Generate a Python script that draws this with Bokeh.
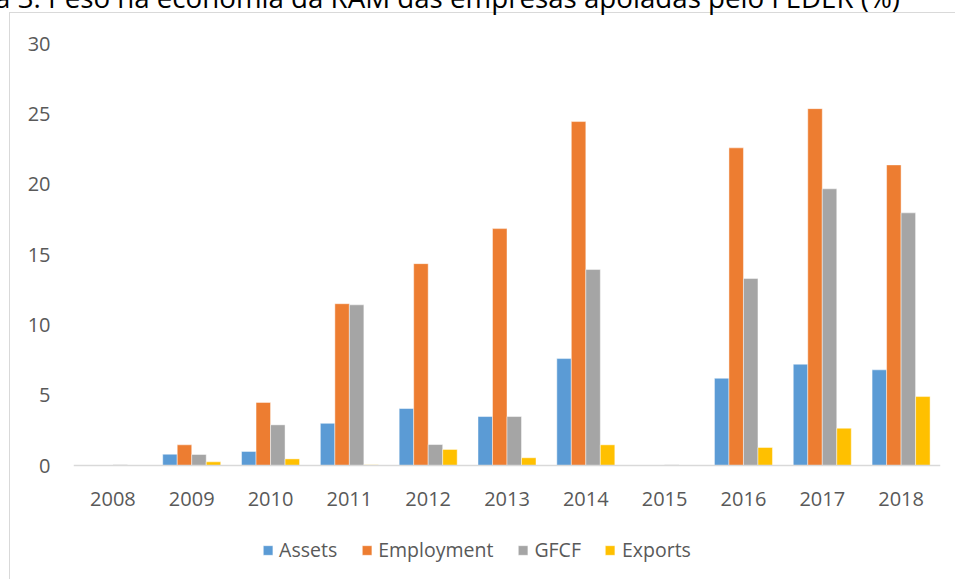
from bokeh.plotting import figure
from bokeh.models import (FactorRange, Range1d, Legend, LegendItem, Title,
                          ColumnDataSource)
from bokeh.transform import dodge
from bokeh.embed import file_html
from bokeh.resources import INLINE

years = ["2008", "2009", "2010", "2011", "2012", "2013", "2014", "2015", "2016", "2017", "2018"]
assets = [0.0, 0.8, 1.0, 3.0, 4.05, 3.48, 7.6, 0.0, 6.2, 7.2, 6.8]
employment = [0.0, 1.47, 4.48, 11.5, 14.35, 16.84, 24.45, 0.0, 22.58, 25.37, 21.37]
gfcf = [0.05, 0.78, 2.89, 11.42, 1.49, 3.48, 13.93, 0.05, 13.29, 19.67, 17.96]
exports = [0.0, 0.26, 0.47, 0.05, 1.14, 0.55, 1.47, 0.0, 1.28, 2.65, 4.9]
series = ["Assets", "Employment", "GFCF", "Exports"]
colors = ["#5B9BD5", "#ED7D31", "#A5A5A5", "#FFC000"]
title_text = "Figura 3: Peso na economia da RAM das empresas apoiadas pelo FEDER (%)"

FONT = "Open Sans"
TXT = "#595959"
SHIFT = 55          # canvas starts this far above the window top (title is cut off)
TOP = 43            # frame top in the window
ZERO = 465          # y = 0 in the window
BOTTOM = 579        # frame reaches the window bottom (legend drawn inside)

src = ColumnDataSource(dict(year=years, Assets=assets, Employment=employment,
                            GFCF=gfcf, Exports=exports))

ppu = (ZERO - TOP) / 30.0
ymin = -(BOTTOM - ZERO) / ppu

p = figure(x_range=FactorRange(*years), y_range=Range1d(ymin, 30),
           frame_width=867, frame_height=BOTTOM - TOP, output_backend="svg",
           toolbar_location=None, title=None, min_border_left=73,
           min_border_right=15, min_border_top=TOP + SHIFT, min_border_bottom=0)
p.margin = (-SHIFT, 0, 0, 0)
p.outline_line_color = None
p.xgrid.grid_line_color = None
p.ygrid.grid_line_color = None
p.background_fill_alpha = 0
p.border_fill_alpha = 0
p.styles = {
    "background-color": "white",
    "background-image": "linear-gradient(#D9D9D9, #D9D9D9), linear-gradient(#D9D9D9, #D9D9D9)",
    "background-size": "1px 100%, 100% 1px",
    "background-position": "9px %dpx, 9px %dpx" % (12 + SHIFT, 12 + SHIFT),
    "background-repeat": "no-repeat",
}

bw = 0.184
offsets = [-1.5 * bw, -0.5 * bw, 0.5 * bw, 1.5 * bw]
items = []
for name, col, off in zip(series, colors, offsets):
    r = p.vbar(x=dodge("year", off, range=p.x_range), top=name, bottom=0,
               width=bw, source=src, fill_color=col, line_color="white",
               line_alpha=0.45, line_width=1)
    items.append(LegendItem(label=name, renderers=[r]))

# invisible spacer item so that the legend is centred on the whole chart
spacer = p.vbar(x=[], top=[], width=bw, fill_alpha=0, line_alpha=0)
items.append(LegendItem(label=" ", renderers=[spacer]))

# axes
p.yaxis.axis_line_color = None
p.yaxis.major_tick_line_color = None
p.yaxis.minor_tick_line_color = None
p.yaxis.major_label_standoff = 17
p.yaxis.ticker = [0, 5, 10, 15, 20, 25, 30]
p.yaxis.major_label_text_font = FONT
p.yaxis.major_label_text_font_size = "20px"
p.yaxis.major_label_text_color = TXT

p.xaxis.fixed_location = 0
p.xaxis.axis_line_color = "#D9D9D9"
p.xaxis.axis_line_width = 1.5
p.xaxis.major_tick_line_color = None
p.xaxis.minor_tick_line_color = None
p.xaxis.major_label_standoff = 20
p.xaxis.major_label_text_font = FONT
p.xaxis.major_label_text_font_size = "20px"
p.xaxis.major_label_text_color = TXT

legend = Legend(items=items, orientation="horizontal", location="bottom",
                glyph_width=12, glyph_height=12, label_standoff=6, spacing=23,
                padding=0, margin=16, border_line_color=None,
                background_fill_alpha=0, label_text_font=FONT,
                label_text_font_size="19.5px", label_text_color=TXT)
p.add_layout(legend)

# title, cut off by the top of the window as in the original
p.add_layout(Title(text=title_text, align="left", vertical_align="bottom",
                   offset=-143, standoff=55, text_font=FONT,
                   text_font_style="normal", text_font_size="27.7px",
                   text_color="black"), "above")

open("out.html", "w").write(file_html(p, INLINE))
